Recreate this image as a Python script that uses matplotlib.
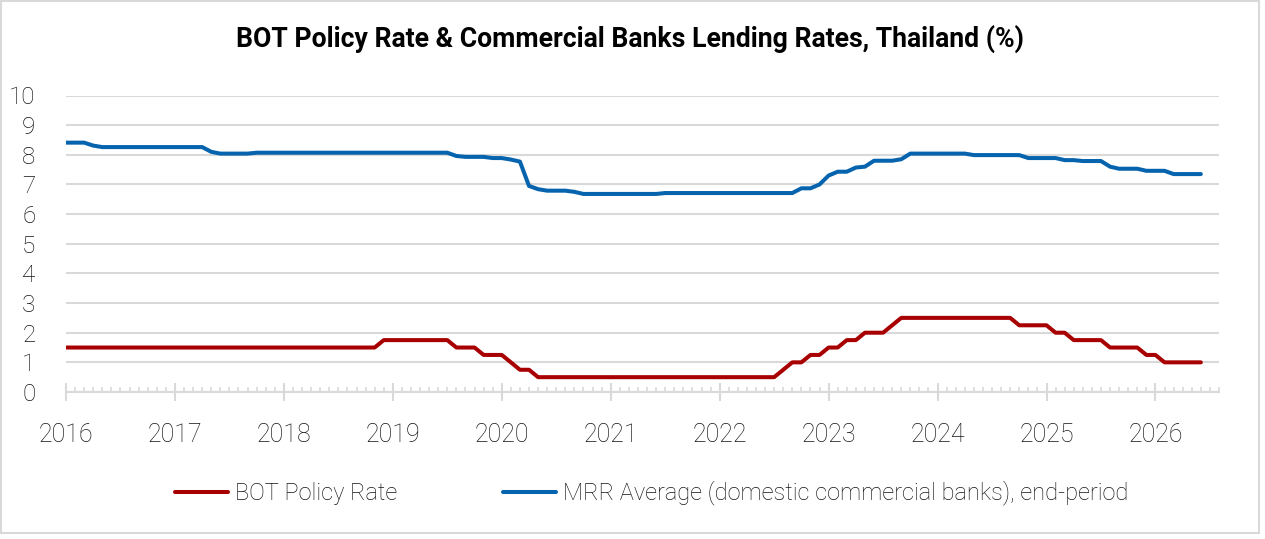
import matplotlib
matplotlib.use("Agg")
import matplotlib.pyplot as plt
from matplotlib.patches import Rectangle
from matplotlib.ticker import FixedLocator

# ---- data (monthly, Jan 2016 .. Jun 2026) ----
policy_rate = (
    [1.50] * 12 +                                   # 2016
    [1.50] * 12 +                                   # 2017
    [1.50] * 11 + [1.75] +                          # 2018
    [1.75] * 7 + [1.50] * 3 + [1.25] * 2 +          # 2019
    [1.25, 1.00, 0.75, 0.75] + [0.50] * 8 +         # 2020
    [0.50] * 12 +                                   # 2021
    [0.50] * 7 + [0.75, 1.00, 1.00, 1.25, 1.25] +   # 2022
    [1.50, 1.50, 1.75, 1.75, 2.00, 2.00, 2.00, 2.25, 2.50, 2.50, 2.50, 2.50] +  # 2023
    [2.50] * 9 + [2.25] * 3 +                       # 2024
    [2.25, 2.00, 2.00, 1.75, 1.75, 1.75, 1.75, 1.50, 1.50, 1.50, 1.50, 1.25] +  # 2025
    [1.25, 1.00, 1.00, 1.00, 1.00, 1.00]            # 2026
)
mrr_average = (
    [8.41, 8.41, 8.41, 8.31, 8.26, 8.26, 8.26, 8.26, 8.26, 8.26, 8.26, 8.26] +  # 2016
    [8.26, 8.26, 8.26, 8.26, 8.10, 8.04, 8.04, 8.04, 8.04, 8.07, 8.07, 8.07] +  # 2017
    [8.07] * 12 +                                                              # 2018
    [8.07] * 7 + [7.96, 7.93, 7.93, 7.93, 7.89] +                              # 2019
    [7.89, 7.84, 7.77, 6.95, 6.84, 6.79, 6.79, 6.79, 6.75, 6.68, 6.68, 6.68] +  # 2020
    [6.68] * 6 + [6.71] * 6 +                                                  # 2021
    [6.71] * 9 + [6.87, 6.87, 7.00] +                                          # 2022
    [7.30, 7.43, 7.43, 7.57, 7.60, 7.80, 7.80, 7.80, 7.85, 8.04, 8.04, 8.04] +  # 2023
    [8.04] * 4 + [7.99] * 6 + [7.89, 7.89] +                                   # 2024
    [7.89, 7.89, 7.82, 7.82, 7.79, 7.79, 7.79, 7.60, 7.53, 7.53, 7.53, 7.46] +  # 2025
    [7.46, 7.46, 7.35, 7.35, 7.35, 7.35]                                       # 2026
)
year_labels = ["2016", "2017", "2018", "2019", "2020", "2021",
               "2022", "2023", "2024", "2025", "2026"]
y_labels = ["0", "1", "2", "3", "4", "5", "6", "7", "8", "9", "10"]
series_names = ["BOT Policy Rate",
                "MRR Average (domestic commercial banks), end-period"]

RED = "#A80000"
BLUE = "#0663AD"
GRID = "#D9D9D9"
TXT = "#141414"

W, H = 1265, 539
fig = plt.figure(figsize=(W / 100, H / 100), dpi=100)
ax = fig.add_axes([66 / W, 1 - 392 / H, (1219 - 66) / W, (392 - 95.5) / H])

l1, = ax.plot(range(len(policy_rate)), policy_rate, color=RED, lw=2.9,
              solid_joinstyle="round", solid_capstyle="round", zorder=3)
l2, = ax.plot(range(len(mrr_average)), mrr_average, color=BLUE, lw=2.9,
              solid_joinstyle="round", solid_capstyle="round", zorder=3)

ax.set_xlim(0, 127)
ax.set_ylim(0, 10)

ax.set_yticks(range(len(y_labels)))
ax.set_yticklabels(y_labels, family="Roboto", weight="light", size=17.5, color=TXT)
ax.tick_params(axis="y", length=0, pad=22)
ax.grid(axis="y", color=GRID, lw=1.5, zorder=1)
ax.set_axisbelow(True)

ax.set_xticks([12 * i for i in range(len(year_labels))])
ax.set_xticklabels(year_labels, family="Roboto", weight="light", size=18, color=TXT)
ax.xaxis.set_minor_locator(FixedLocator(range(0, 128)))
ax.tick_params(axis="x", which="major", direction="inout", length=12.5,
               width=1.5, color=GRID, pad=16)
ax.tick_params(axis="x", which="minor", direction="in", length=3.6,
               width=1.2, color=GRID)

for s in ["left", "right", "top"]:
    ax.spines[s].set_visible(False)
ax.spines["bottom"].set_color(GRID)
ax.spines["bottom"].set_linewidth(1.5)

fig.text(630 / W, 1 - 38.5 / H,
         "BOT Policy Rate & Commercial Banks Lending Rates, Thailand (%)",
         ha="center", va="center", family="Roboto", weight="bold",
         size=19.2, color="#000000")

fig.legend([l1, l2], series_names, loc="center left",
           bbox_to_anchor=(175 / W, 1 - 493 / H), ncol=2, frameon=False,
           prop=dict(family="Roboto", weight="light", size=17.0),
           labelcolor=TXT,
           handlelength=2.25, handletextpad=0.3, columnspacing=4.45,
           borderpad=0, borderaxespad=0)

fig.add_artist(Rectangle((1 / W, 1 - 533 / H), 1258 / W, 532 / H,
                         transform=fig.transFigure, fill=False,
                         edgecolor=GRID, lw=1.5))

fig.savefig("out.png", dpi=100)
